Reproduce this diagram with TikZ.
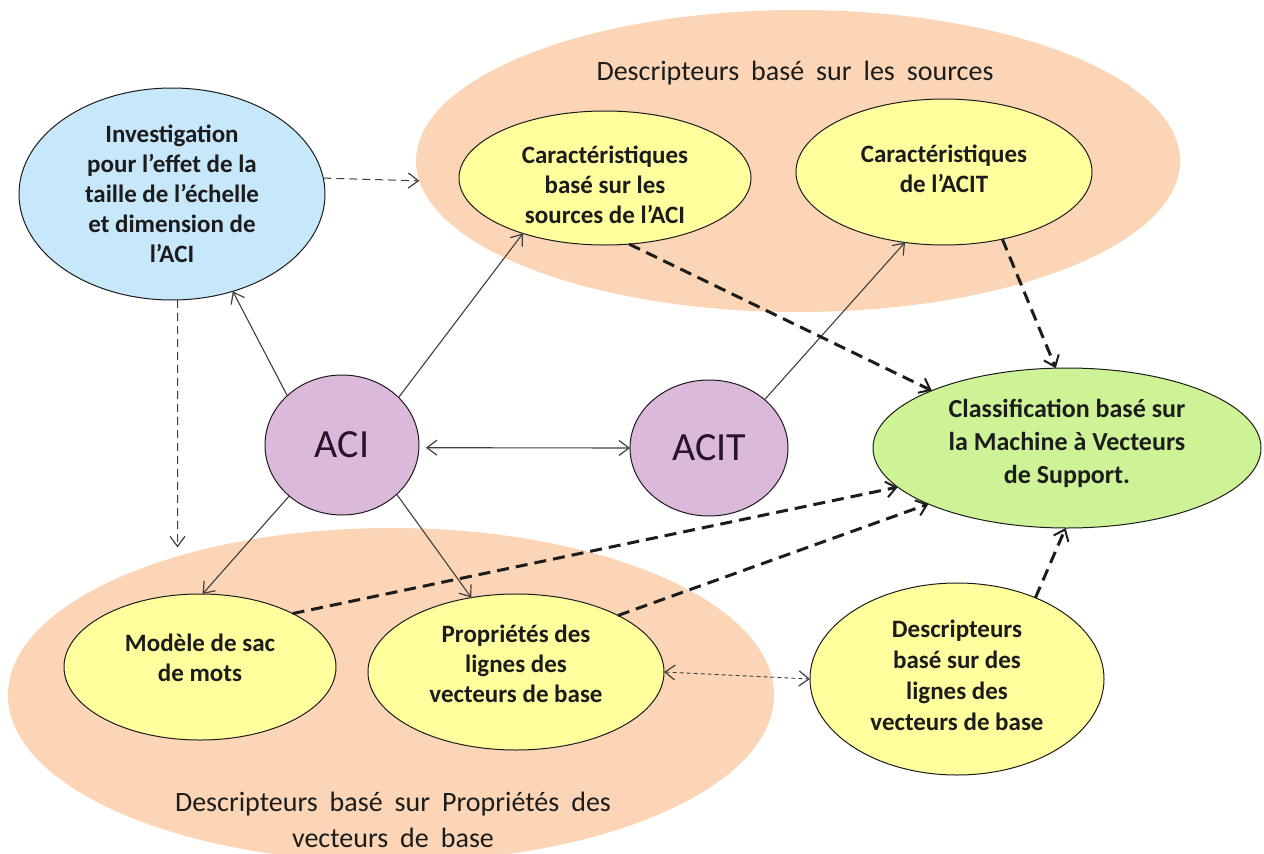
\documentclass[tikz,border=0pt]{standalone}
\usepackage{fontspec}
\setmainfont{Carlito}
\usetikzlibrary{shapes.geometric,arrows.meta}
\definecolor{peach}{RGB}{251,213,181}
\definecolor{skyb}{RGB}{199,231,250}
\definecolor{lemon}{RGB}{255,255,158}
\definecolor{mauve}{RGB}{219,185,219}
\definecolor{lime}{RGB}{206,243,150}
\definecolor{inkc}{RGB}{28,28,28}
\newcommand\widesp{\spaceskip=12pt\relax}
\tikzset{
  oval/.style={ellipse, draw=inkc, line width=1pt, inner sep=0pt, outer sep=0pt, align=center, text=inkc, font=\bfseries\fontsize{25}{30}\selectfont},
  ovtxt/.style={align=center, inner sep=0pt, text=inkc, font=\bfseries\fontsize{25}{30}\selectfont},
  bigtxt/.style={font=\fontsize{40}{48}\selectfont, text={rgb,255:red,40;green,20;blue,40}},
  grp/.style={ellipse, fill=peach, inner sep=0pt, outer sep=0pt},
  grptxt/.style={align=center, text=inkc, font=\fontsize{28}{36}\selectfont, execute at begin node=\widesp},
  lnk/.style={->, >={Straight Barb[length=10pt,width=15pt,line width=1.2pt]}, line width=1.1pt, draw=inkc!85},
  fdash/.style={lnk, line width=1pt, dash pattern=on 8pt off 5pt},
  bdash/.style={lnk, draw=inkc, line width=3pt, dash pattern=on 12pt off 7pt, >={Straight Barb[length=10pt,width=16pt,line width=2pt]}},
}
\begin{document}
\begin{tikzpicture}[x=1pt,y=1pt]
\useasboundingbox (0,0) rectangle (1264,-854);
\node[grp, minimum width=764pt, minimum height=302pt] (srcgrp) at (798,-161) {};
\node[grp, minimum width=766pt, minimum height=334pt] (bowgrp) at (391,-695) {};
\node[grptxt] (srctitle) at (795,-73) {Descripteurs basé sur les sources};
\node[grptxt] (bowtitle) at (393,-820) {Descripteurs basé sur Propriétés des\\vecteurs de base};
\node[oval, fill=skyb, minimum width=306pt, minimum height=212pt] (invest) at (172,-194) {Investigation\\pour l’effet de la\\taille de l’échelle\\et dimension de\\l’ACI};
\node[oval, fill=lemon, minimum width=292pt, minimum height=134pt] (caci) at (605,-178) {};
\node[ovtxt] (cacitxt) at ([yshift=-7pt]caci) {Caractéristiques\\basé sur les\\sources de l’ACI};
\node[oval, fill=lemon, minimum width=296pt, minimum height=146pt] (cacit) at (944,-172) {};
\node[ovtxt] (cacittxt) at ([yshift=3pt]cacit) {Caractéristiques\\de l’ACIT};
\node[oval, bigtxt, fill=mauve, minimum width=154pt, minimum height=140pt] (aci) at (342,-445) {ACI};
\node[oval, bigtxt, fill=mauve, minimum width=158pt, minimum height=136pt] (acit) at (709,-448) {ACIT};
\node[oval, fill=lime, minimum width=388pt, minimum height=160pt] (svm) at (1067,-448) {};
\node[ovtxt, font=\bfseries\fontsize{26}{33}\selectfont] (svmtxt) at ([yshift=5pt]svm) {Classification basé sur\\la Machine à Vecteurs\\de Support.};
\node[oval, fill=lemon, minimum width=272pt, minimum height=146pt] (bow) at (200,-667) {};
\node[ovtxt] (bowtxt) at ([yshift=9pt]bow) {Modèle de sac\\de mots};
\node[oval, fill=lemon, minimum width=296pt, minimum height=156pt] (prop) at (516,-672) {};
\node[ovtxt] (proptxt) at ([yshift=8pt]prop) {Propriétés des\\lignes des\\vecteurs de base};
\node[oval, fill=lemon, minimum width=294pt, minimum height=192pt] (desc) at (957,-679) {};
\node[ovtxt, font=\bfseries\fontsize{25}{31}\selectfont] (desctxt) at ([yshift=4pt]desc) {Descripteurs\\basé sur des\\lignes des\\vecteurs de base};
\draw[fdash] (invest.6) -- (srcgrp.183);
\draw[fdash, shorten >=9pt] (invest.273) -- (bowgrp.147);
\draw[lnk] (aci.138) -- (invest.302);
\draw[lnk] (aci.40) -- (caci.214);
\draw[lnk, <->, shorten <=7pt] (aci.-2) -- (acit.180);
\draw[lnk] (acit.41) -- (cacit.241);
\draw[lnk] (aci.224) -- (bow.88);
\draw[lnk] (aci.318) -- (prop.121);
\draw[bdash] (caci.290) -- (svm.157);
\draw[bdash] (cacit.311) -- (svm.98);
\draw[bdash] (bow.30) -- (svm.193);
\draw[bdash] (prop.29) -- (svm.202);
\draw[bdash] (desc.46) -- (svm.269);
\draw[lnk, <->, line width=0.9pt, dash pattern=on 4pt off 3pt] (prop.0) -- (desc.180);
\end{tikzpicture}
\end{document}
